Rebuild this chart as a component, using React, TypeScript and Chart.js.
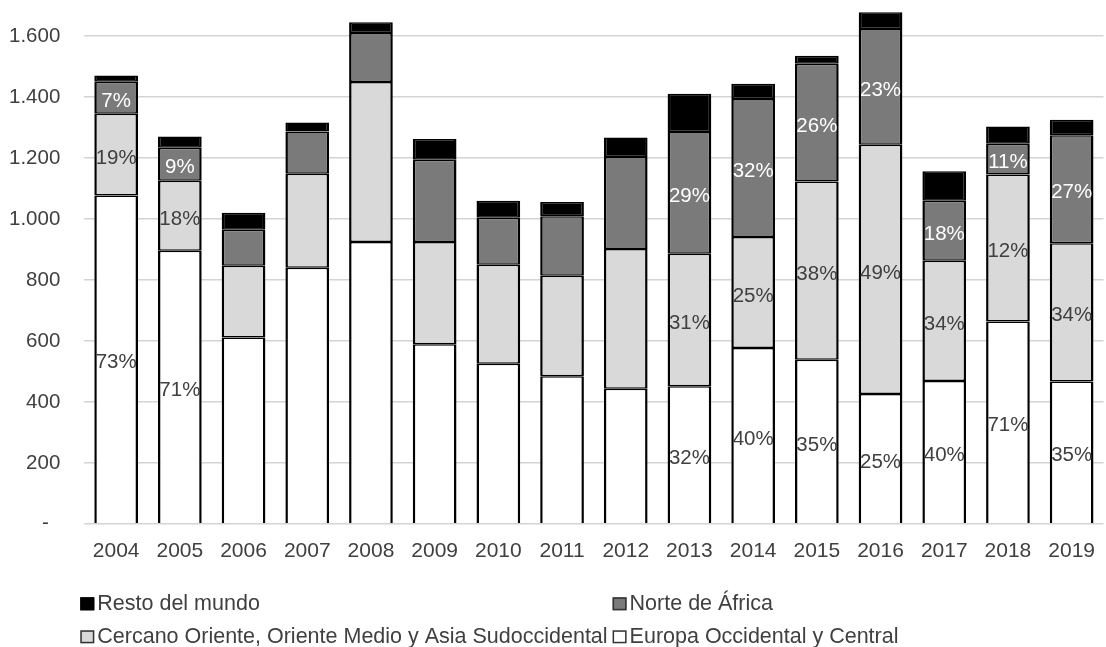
import React, { useEffect, useRef } from "react";
import { Chart, registerables } from "chart.js";

Chart.register(...registerables);

const years = ["2004", "2005", "2006", "2007", "2008", "2009", "2010", "2011", "2012", "2013", "2014", "2015", "2016", "2017", "2018", "2019"];

const europa = [1077, 896, 611, 840, 925, 589, 525, 484, 443, 451, 577, 538, 426, 469, 664, 467];
const cercano = [269, 230, 236, 309, 525, 336, 325, 330, 459, 435, 364, 585, 818, 394, 482, 454];
const norte = [105, 108, 118, 138, 161, 270, 154, 195, 302, 400, 453, 387, 380, 197, 101, 354];
const resto = [20, 37, 56, 30, 35, 68, 56, 47, 64, 125, 50, 26, 55, 97, 57, 51];

const europaLabels = ["73%", "71%", "", "", "", "", "", "", "", "32%", "40%", "35%", "25%", "40%", "71%", "35%"];
const cercanoLabels = ["19%", "18%", "", "", "", "", "", "", "", "31%", "25%", "38%", "49%", "34%", "12%", "34%"];
const norteLabels = ["7%", "9%", "", "", "", "", "", "", "", "29%", "32%", "26%", "23%", "18%", "11%", "27%"];
const restoLabels = ["", "", "", "", "", "", "", "", "", "", "", "", "", "", "", ""];

const seriesNames = [
  "Europa Occidental y Central",
  "Cercano Oriente, Oriente Medio y Asia Sudoccidental",
  "Norte de África",
  "Resto del mundo",
];

const yTicks = [0, 200, 400, 600, 800, 1000, 1200, 1400, 1600, 1800];

const FONT = "Liberation Sans, Arial, sans-serif";
const TEXT = "#404040";
const fills = ["#ffffff", "#d9d9d9", "#7a7a7a", "#000000"];
const labelColors = [TEXT, TEXT, "#ffffff", TEXT];
const allLabels = [europaLabels, cercanoLabels, norteLabels, restoLabels];

function fmt(v: number): string {
  if (v === 0) return "-  ";
  return String(v).replace(/\B(?=(\d{3})+(?!\d))/g, ".");
}

const segLabelPlugin = {
  id: "segLabels",
  afterDatasetsDraw(chart: any) {
    const ctx = chart.ctx;
    ctx.save();
    ctx.font = `20.5px ${FONT}`;
    ctx.textAlign = "center";
    ctx.textBaseline = "middle";
    chart.data.datasets.forEach((ds: any, i: number) => {
      const meta = chart.getDatasetMeta(i);
      meta.data.forEach((el: any, j: number) => {
        const t = allLabels[i][j];
        if (!t) return;
        ctx.fillStyle = labelColors[i];
        ctx.fillText(t, el.x, (el.y + el.base) / 2 + 3.5);
      });
    });
    ctx.restore();
  },
};

const legendPlugin = {
  id: "gridLegend",
  afterDraw(chart: any) {
    const ctx = chart.ctx;
    const area = chart.chartArea;
    ctx.save();
    ctx.font = `21.5px ${FONT}`;
    ctx.textBaseline = "middle";
    ctx.textAlign = "left";
    const order = [3, 2, 1, 0];
    const col1 = area.left - 4;
    const boxW = 14;
    const boxH = 13;
    const gap = 3;
    const wLong = Math.max(
      ctx.measureText(seriesNames[3]).width,
      ctx.measureText(seriesNames[1]).width
    );
    const col2 = col1 + boxW + gap + wLong + 5;
    const rows = [area.bottom + 80, area.bottom + 113];
    order.forEach((di, k) => {
      const x = k % 2 === 0 ? col1 : col2;
      const y = rows[Math.floor(k / 2)];
      ctx.fillStyle = fills[di];
      ctx.fillRect(x, y - boxH / 2, boxW, boxH);
      ctx.strokeStyle = di === 3 ? "#000000" : "#333333";
      ctx.lineWidth = 1.5;
      ctx.strokeRect(x + 0.75, y - boxH / 2 + 0.75, boxW - 1.5, boxH - 1.5);
      ctx.fillStyle = TEXT;
      ctx.fillText(chart.data.datasets[di].label, x + boxW + gap, y);
    });
    ctx.restore();
  },
};

export default function App() {
  const ref = useRef<HTMLCanvasElement | null>(null);

  useEffect(() => {
    if (!ref.current) return;
    Chart.defaults.font.family = FONT;
    const series = [europa, cercano, norte, resto];
    const chart = new Chart(ref.current, {
      type: "bar",
      data: {
        labels: years,
        datasets: series.map((d, i) => ({
          label: seriesNames[i],
          data: d,
          backgroundColor: fills[i],
          borderColor: "#000000",
          borderWidth: { left: 2.5, right: 2.5, top: 1.5, bottom: i === 0 ? 0 : 1.5 },
          borderSkipped: false,
          categoryPercentage: 1,
          barPercentage: 0.686,
        })),
      },
      options: {
        animation: false,
        responsive: true,
        maintainAspectRatio: false,
        layout: { padding: { left: 0, right: 0, top: 0, bottom: 68 } },
        plugins: {
          legend: { display: false },
          tooltip: { enabled: false },
          title: { display: false },
        },
        scales: {
          x: {
            stacked: true,
            grid: { display: false, drawTicks: false },
            border: { display: false },
            ticks: { color: TEXT, font: { size: 21, family: FONT }, padding: 15, maxRotation: 0 },
          },
          y: {
            stacked: true,
            min: 0,
            max: 1800,
            afterBuildTicks: (scale: any) => {
              scale.ticks = yTicks.map((v) => ({ value: v }));
            },
            grid: { color: "#d4d4d4", lineWidth: 1.5, drawTicks: false },
            border: { display: false },
            ticks: {
              color: TEXT,
              font: { size: 20.5, family: FONT },
              padding: 24,
              callback: (v: any) => fmt(Number(v)),
            },
          },
        },
      },
      plugins: [segLabelPlugin, legendPlugin],
    });
    return () => chart.destroy();
  }, []);

  return (
    <div style={{ position: "fixed", left: -15, top: -61, width: 1125, height: 708, background: "#ffffff" }}>
      <canvas ref={ref} />
    </div>
  );
}
